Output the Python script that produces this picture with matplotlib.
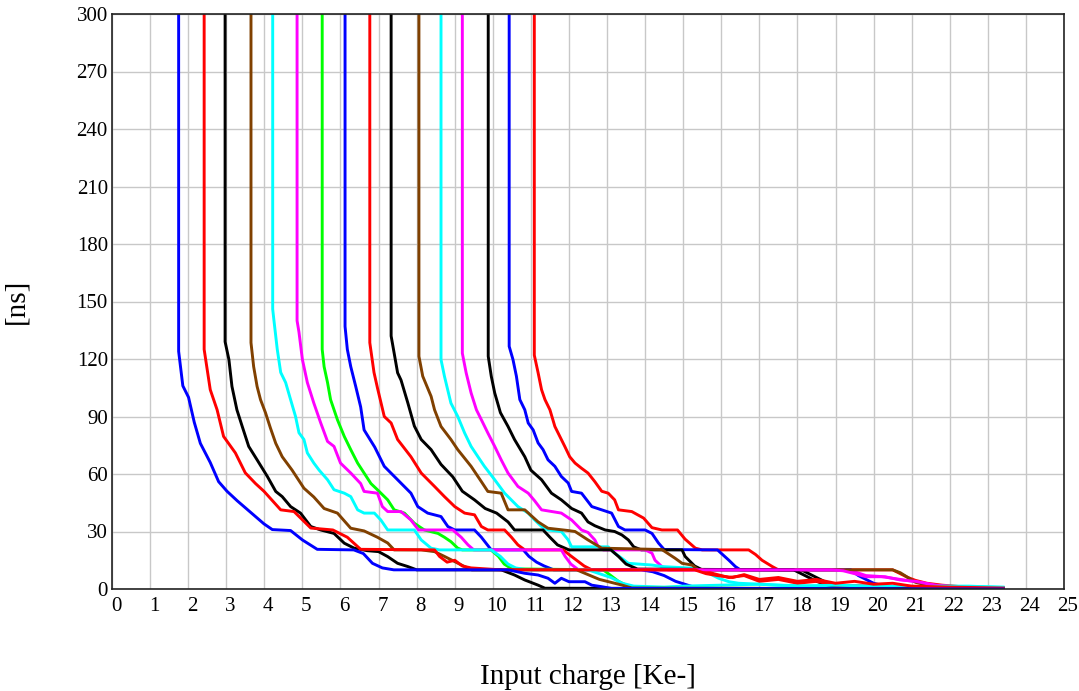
import matplotlib
matplotlib.use("Agg")
import matplotlib.pyplot as plt
import matplotlib.transforms as mtransforms

# threshold scan curves (x in Ke-, y in ns)
blue1_x = [1.75, 1.75, 1.86, 2.01, 2.16, 2.32, 2.58, 2.80, 3.02, 3.29, 3.64, 3.99, 4.21, 4.69, 5.0, 5.39, 6.35, 6.6, 6.84, 7.1, 7.4, 10.2, 10.4, 10.84, 11.19, 11.45, 11.63, 11.8, 12.0, 12.25, 12.42, 12.6, 12.86, 13.12, 23.4]
blue1_y = [300, 124, 106, 100, 87, 76, 66, 56, 51, 46, 40, 34, 31, 30.5, 25.6, 20.7, 20.4, 18.5, 13.4, 11, 10, 10, 10, 8.2, 7.3, 5.6, 3, 5.6, 3.8, 3.8, 3.8, 2, 1.2, 0.3, 0]

red2_x = [2.42, 2.42, 2.58, 2.76, 2.93, 3.24, 3.5, 3.77, 3.99, 4.43, 4.78, 5.22, 5.8, 6.18, 6.53, 8.47, 8.6, 8.8, 9.0, 9.2, 9.43, 10.2, 15.3, 15.6, 15.9, 16.3, 16.6, 17.0, 17.5, 18.0, 18.5, 19.0, 19.5, 20.0, 20.5, 21.0, 22.0, 23.4]
red2_y = [300, 125, 104, 93.5, 79.6, 71, 60.6, 55, 51, 41.3, 40.4, 31.8, 30.8, 27, 20.7, 20.4, 17, 14, 15, 12, 11, 10, 10, 8, 7, 6, 7.5, 5, 6, 4, 5, 3, 4, 2.5, 3, 1.5, 1, 0.5]

black3_x = [2.97, 2.97, 3.07, 3.15, 3.28, 3.42, 3.59, 3.81, 4.08, 4.3, 4.47, 4.69, 4.95, 5.22, 5.48, 5.83, 6.1, 6.36, 6.7, 7.0, 7.24, 7.5, 7.77, 8.0, 10.22, 10.57, 10.84, 11.19, 11.37, 23.4]
black3_y = [300, 129, 119.7, 105.7, 93.5, 84.8, 74.4, 67.4, 58.7, 50.9, 48.2, 43, 39.6, 32.6, 30.8, 29, 23.9, 21.3, 20, 19.5, 16.9, 13.4, 11.7, 10, 10, 7.3, 4.7, 2, 0.4, 0]

brown4_x = [3.65, 3.65, 3.72, 3.81, 3.9, 4.03, 4.16, 4.3, 4.47, 4.73, 5.04, 5.3, 5.57, 5.92, 6.27, 6.62, 6.97, 7.24, 7.41, 8.12, 8.47, 8.73, 9.0, 9.26, 9.45, 12.2, 12.5, 12.8, 13.1, 13.4, 13.65, 23.4]
brown4_y = [300, 128.5, 116, 105.7, 98.8, 92, 84, 76, 69, 62, 52.6, 48, 42, 39.6, 31.7, 30.3, 27, 24, 20.4, 20.4, 19.5, 17, 14.3, 11.7, 10, 10, 7.5, 5, 3.5, 2, 0.5, 0]

cyan5_x = [4.22, 4.22, 4.25, 4.34, 4.43, 4.56, 4.69, 4.82, 4.91, 5.04, 5.13, 5.3, 5.44, 5.66, 5.83, 6.1, 6.27, 6.45, 6.62, 6.89, 7.06, 7.24, 7.94, 8.12, 8.38, 8.6, 9.96, 10.2, 10.4, 10.6, 10.9, 12.5, 12.8, 13.1, 13.4, 13.7, 14.5, 15.0, 16.0, 17.0, 18.0, 19.0, 20.0, 21.0, 22.0, 23.4]
cyan5_y = [300, 146, 140.6, 125, 113, 107.7, 98.8, 90, 81.5, 78, 71, 65.7, 62, 57, 51.8, 50, 48.2, 41.3, 39.6, 39.6, 36, 30.8, 30.8, 25.6, 21.3, 20.4, 20.4, 17, 13, 11, 10, 10, 8, 6, 3, 1.5, 1, 1.5, 2, 2.5, 1.5, 2, 1.5, 1.2, 1.5, 1]

magenta6_x = [4.86, 4.86, 4.91, 5.0, 5.13, 5.3, 5.48, 5.66, 5.83, 6.0, 6.27, 6.53, 6.62, 6.97, 7.1, 7.24, 7.59, 7.85, 8.05, 8.95, 9.17, 9.35, 9.5, 11.8, 11.9, 12.05, 12.25, 18.9, 19.2, 19.5, 19.8, 20.3, 20.7, 21.1, 21.6, 22.1, 23.4]
magenta6_y = [300, 140, 134, 119.7, 107.7, 97, 86.7, 77, 74.4, 65.7, 60.5, 55, 50.9, 50, 43, 40.4, 40.4, 36, 30.8, 30.8, 27, 23, 20.4, 20.4, 17, 13, 10, 10, 9.5, 8, 6.4, 6.4, 4.7, 4, 2, 1.2, 0.5]

green7_x = [5.52, 5.52, 5.57, 5.66, 5.74, 5.92, 6.1, 6.27, 6.45, 6.62, 6.8, 6.97, 7.24, 7.41, 7.68, 7.94, 8.2, 8.56, 8.73, 8.9, 9.08, 9.2, 9.95, 10.15, 10.3, 10.5, 12.9, 13.1, 13.3, 13.5, 13.65, 23.4]
green7_y = [300, 125, 116, 107.7, 98.8, 88.3, 79.6, 72.7, 65.7, 60.5, 55, 51.8, 46.5, 41.3, 39.6, 34.3, 30.8, 29, 27, 24.7, 21.3, 20.4, 20.4, 17, 13, 10.5, 10, 7, 4, 2, 0.5, 0]

blue8_x = [6.12, 6.12, 6.18, 6.27, 6.4, 6.53, 6.62, 6.9, 7.15, 7.5, 7.85, 8.03, 8.29, 8.64, 8.82, 9.0, 9.52, 9.7, 9.96, 10.8, 10.95, 11.15, 11.35, 11.6, 13.9, 14.2, 14.5, 14.8, 15.2, 15.4, 23.4]
blue8_y = [300, 137, 125, 116, 105.7, 95, 83, 74, 64, 57, 50, 43, 39.6, 37.8, 32.6, 30.8, 30.8, 27, 20.4, 20.4, 17, 14, 12, 10, 10, 9, 7, 4, 1.5, 0.3, 0]

red9_x = [6.77, 6.77, 6.88, 6.97, 7.15, 7.33, 7.5, 7.85, 8.12, 8.47, 8.73, 9.0, 9.26, 9.52, 9.7, 9.87, 10.31, 10.49, 10.66, 10.84, 11.85, 12.0, 12.2, 12.4, 12.6, 15.5, 15.8, 16.2, 16.6, 17.0, 17.5, 18.0, 18.5, 19.0, 20.0, 21.0, 23.4]
red9_y = [300, 128.5, 113, 105, 90, 86.6, 78, 69, 60.5, 53.5, 48.2, 43, 39.6, 38.7, 32.6, 30.8, 30.8, 27, 23, 20.4, 20.4, 18, 15, 12, 10, 10, 8, 6, 7, 4, 5, 3, 4, 2, 1.5, 1, 0.5]

black10_x = [7.33, 7.33, 7.41, 7.5, 7.59, 7.77, 7.94, 8.12, 8.38, 8.64, 8.95, 9.2, 9.52, 9.8, 10.1, 10.4, 10.57, 11.32, 11.5, 11.7, 12.0, 13.1, 13.3, 13.5, 13.8, 17.9, 18.2, 18.5, 18.8, 19.2, 23.4]
black10_y = [300, 132, 123, 112.8, 109, 97, 85, 78, 72.7, 65, 58.5, 51, 46.5, 42, 39.6, 35, 30.8, 30.8, 27, 23, 20.4, 20.4, 17, 13, 10.4, 10, 7, 4, 2, 0.8, 0.3]

brown11_x = [8.06, 8.06, 8.16, 8.38, 8.47, 8.64, 8.9, 9.08, 9.43, 9.7, 9.87, 10.22, 10.4, 10.84, 11.19, 11.45, 11.98, 12.16, 12.5, 12.86, 14.44, 14.79, 14.97, 15.23, 15.4, 20.5, 20.7, 20.9, 21.1, 21.4, 22.0, 23.4]
brown11_y = [300, 121.4, 111, 100.5, 93.5, 84.8, 78, 72.7, 64, 56, 50.9, 50, 41.3, 41.3, 35, 31.7, 30.5, 30, 25.6, 21.3, 20.6, 16, 13.4, 12.5, 10, 10, 8.5, 6, 3.5, 2, 1.2, 0.5]

cyan12_x = [8.64, 8.64, 8.73, 8.9, 9.08, 9.26, 9.43, 9.61, 9.78, 10.05, 10.31, 10.66, 10.93, 11.1, 11.28, 11.45, 11.8, 11.98, 12.07, 13.03, 13.2, 13.39, 13.56, 14.18, 14.44, 15.3, 15.67, 15.93, 16.2, 16.46, 17.0, 17.5, 18.5, 19.5, 20.5, 21.5, 22.5, 23.4]
cyan12_y = [300, 119.7, 111, 97, 90, 81.4, 74.4, 69, 64, 57, 50, 43, 39.6, 36, 32.6, 30.8, 30, 25.6, 22, 22, 18.7, 16, 13.4, 12.5, 11.7, 10.8, 8.2, 5.6, 3.8, 3.0, 2.5, 2, 1.5, 1.2, 1.5, 1.2, 1.5, 0.8]

magenta13_x = [9.2, 9.2, 9.3, 9.43, 9.57, 9.7, 9.87, 10.05, 10.22, 10.4, 10.66, 10.93, 11.1, 11.28, 11.8, 12.07, 12.33, 12.5, 12.68, 12.77, 12.9, 14.0, 14.18, 14.26, 14.44, 14.6, 19.2, 19.5, 19.8, 20.2, 20.7, 21.2, 21.6, 22.1, 23.4]
magenta13_y = [300, 123, 112.8, 102.3, 93.5, 88.3, 81.4, 74.4, 67.4, 60.5, 53.5, 50, 46, 41.3, 39.6, 36, 30.8, 29.5, 25.6, 22, 20.4, 20.4, 18.7, 15, 11.7, 10, 10, 9, 7, 6.5, 5, 3.5, 2, 1.2, 0.5]

black14_x = [9.88, 9.88, 9.96, 10.05, 10.2, 10.4, 10.57, 10.84, 11.0, 11.28, 11.54, 11.8, 12.07, 12.33, 12.5, 12.68, 12.95, 13.2, 13.39, 13.56, 13.7, 13.9, 14.97, 15.05, 15.3, 15.5, 18.1, 18.4, 18.7, 19.0, 19.4, 23.4]
black14_y = [300, 121.4, 111, 102.3, 92, 84.8, 78, 69, 62, 57, 50, 46.5, 42, 39.6, 35, 33, 30.8, 30, 28.2, 25.6, 22, 20.4, 20.4, 17, 12, 10, 10, 7, 4, 2, 0.8, 0.3]

blue15_x = [10.43, 10.43, 10.53, 10.62, 10.71, 10.84, 10.93, 11.06, 11.19, 11.32, 11.45, 11.63, 11.8, 11.98, 12.07, 12.33, 12.6, 12.86, 13.12, 13.3, 13.47, 14.0, 14.18, 14.35, 14.5, 15.9, 16.2, 16.37, 16.5, 19.4, 19.6, 19.8, 20.0, 20.3, 20.6, 23.4]
blue15_y = [300, 126.6, 119.7, 111, 98.8, 93.5, 86.6, 83, 76.2, 72.7, 67.4, 64, 58.7, 55.3, 50.9, 50, 43, 41.3, 39.6, 32.6, 30.8, 30.8, 29, 24, 20.6, 20.4, 15, 11.7, 10, 10, 7, 5, 3, 1.5, 0.5, 0.2]

red16_x = [11.09, 11.09, 11.19, 11.28, 11.37, 11.5, 11.63, 11.76, 11.89, 12.02, 12.16, 12.33, 12.5, 12.68, 12.86, 13.03, 13.2, 13.3, 13.65, 13.96, 14.18, 14.44, 14.85, 15.05, 15.32, 15.5, 16.72, 16.9, 17.07, 17.34, 17.5, 20.5, 20.7, 20.9, 21.1, 21.4, 21.8, 22.3, 23.4]
red16_y = [300, 122, 112.8, 104, 98.8, 93.5, 84.8, 79.6, 74.4, 69, 65.7, 63, 60.5, 56, 51, 50, 46.5, 41.3, 40.4, 37, 32, 30.8, 30.8, 26, 21.3, 20.4, 20.4, 18, 15, 11.7, 10, 10, 8, 6, 4.5, 3, 2, 1.2, 0.5]

BLUE, RED, BLACK, BROWN = "#0000ff", "#ff0000", "#000000", "#804000"
CYAN, MAGENTA, GREEN = "#00ffff", "#ff00ff", "#00ff00"

curves = [
    (blue1_x, blue1_y, BLUE),
    (red2_x, red2_y, RED),
    (black3_x, black3_y, BLACK),
    (brown4_x, brown4_y, BROWN),
    (cyan5_x, cyan5_y, CYAN),
    (magenta6_x, magenta6_y, MAGENTA),
    (green7_x, green7_y, GREEN),
    (blue8_x, blue8_y, BLUE),
    (red9_x, red9_y, RED),
    (black10_x, black10_y, BLACK),
    (brown11_x, brown11_y, BROWN),
    (cyan12_x, cyan12_y, CYAN),
    (magenta13_x, magenta13_y, MAGENTA),
    (black14_x, black14_y, BLACK),
    (blue15_x, blue15_y, BLUE),
    (red16_x, red16_y, RED),
]

plt.rcParams['font.family'] = ['Liberation Serif', 'DejaVu Serif']

fig = plt.figure(figsize=(10.79, 6.91), dpi=100)
ax = fig.add_axes([112 / 1079, 1 - 589 / 691, (1064 - 112) / 1079, (589 - 14) / 691])

# the first curve ends up on top, so draw them back to front
for xs, ys, col in reversed(curves):
    ax.plot(xs, ys, color=col, linewidth=2.1, solid_joinstyle='round')

ax.set_xlim(0, 25)
ax.set_ylim(0, 300)
ax.set_xticks(range(0, 26))
ax.set_yticks(range(0, 301, 30))
ax.grid(True, color='#c8c8c8', linewidth=1.0)
ax.set_axisbelow(True)
ax.tick_params(length=0, labelsize=15)
ax.tick_params(axis='x', pad=6)
ax.tick_params(axis='y', pad=3)
shift = mtransforms.ScaledTranslation(4 / 100, 0, fig.dpi_scale_trans)
for lab in ax.get_xticklabels():
    lab.set_transform(lab.get_transform() + shift)
for side in ax.spines.values():
    side.set_color('#222222')
    side.set_linewidth(1.2)

ax.set_xlabel('Input charge [Ke-]', fontsize=21, labelpad=34)
ax.set_ylabel('[ns]', fontsize=21, labelpad=34)

fig.savefig('out.png', dpi=100)
